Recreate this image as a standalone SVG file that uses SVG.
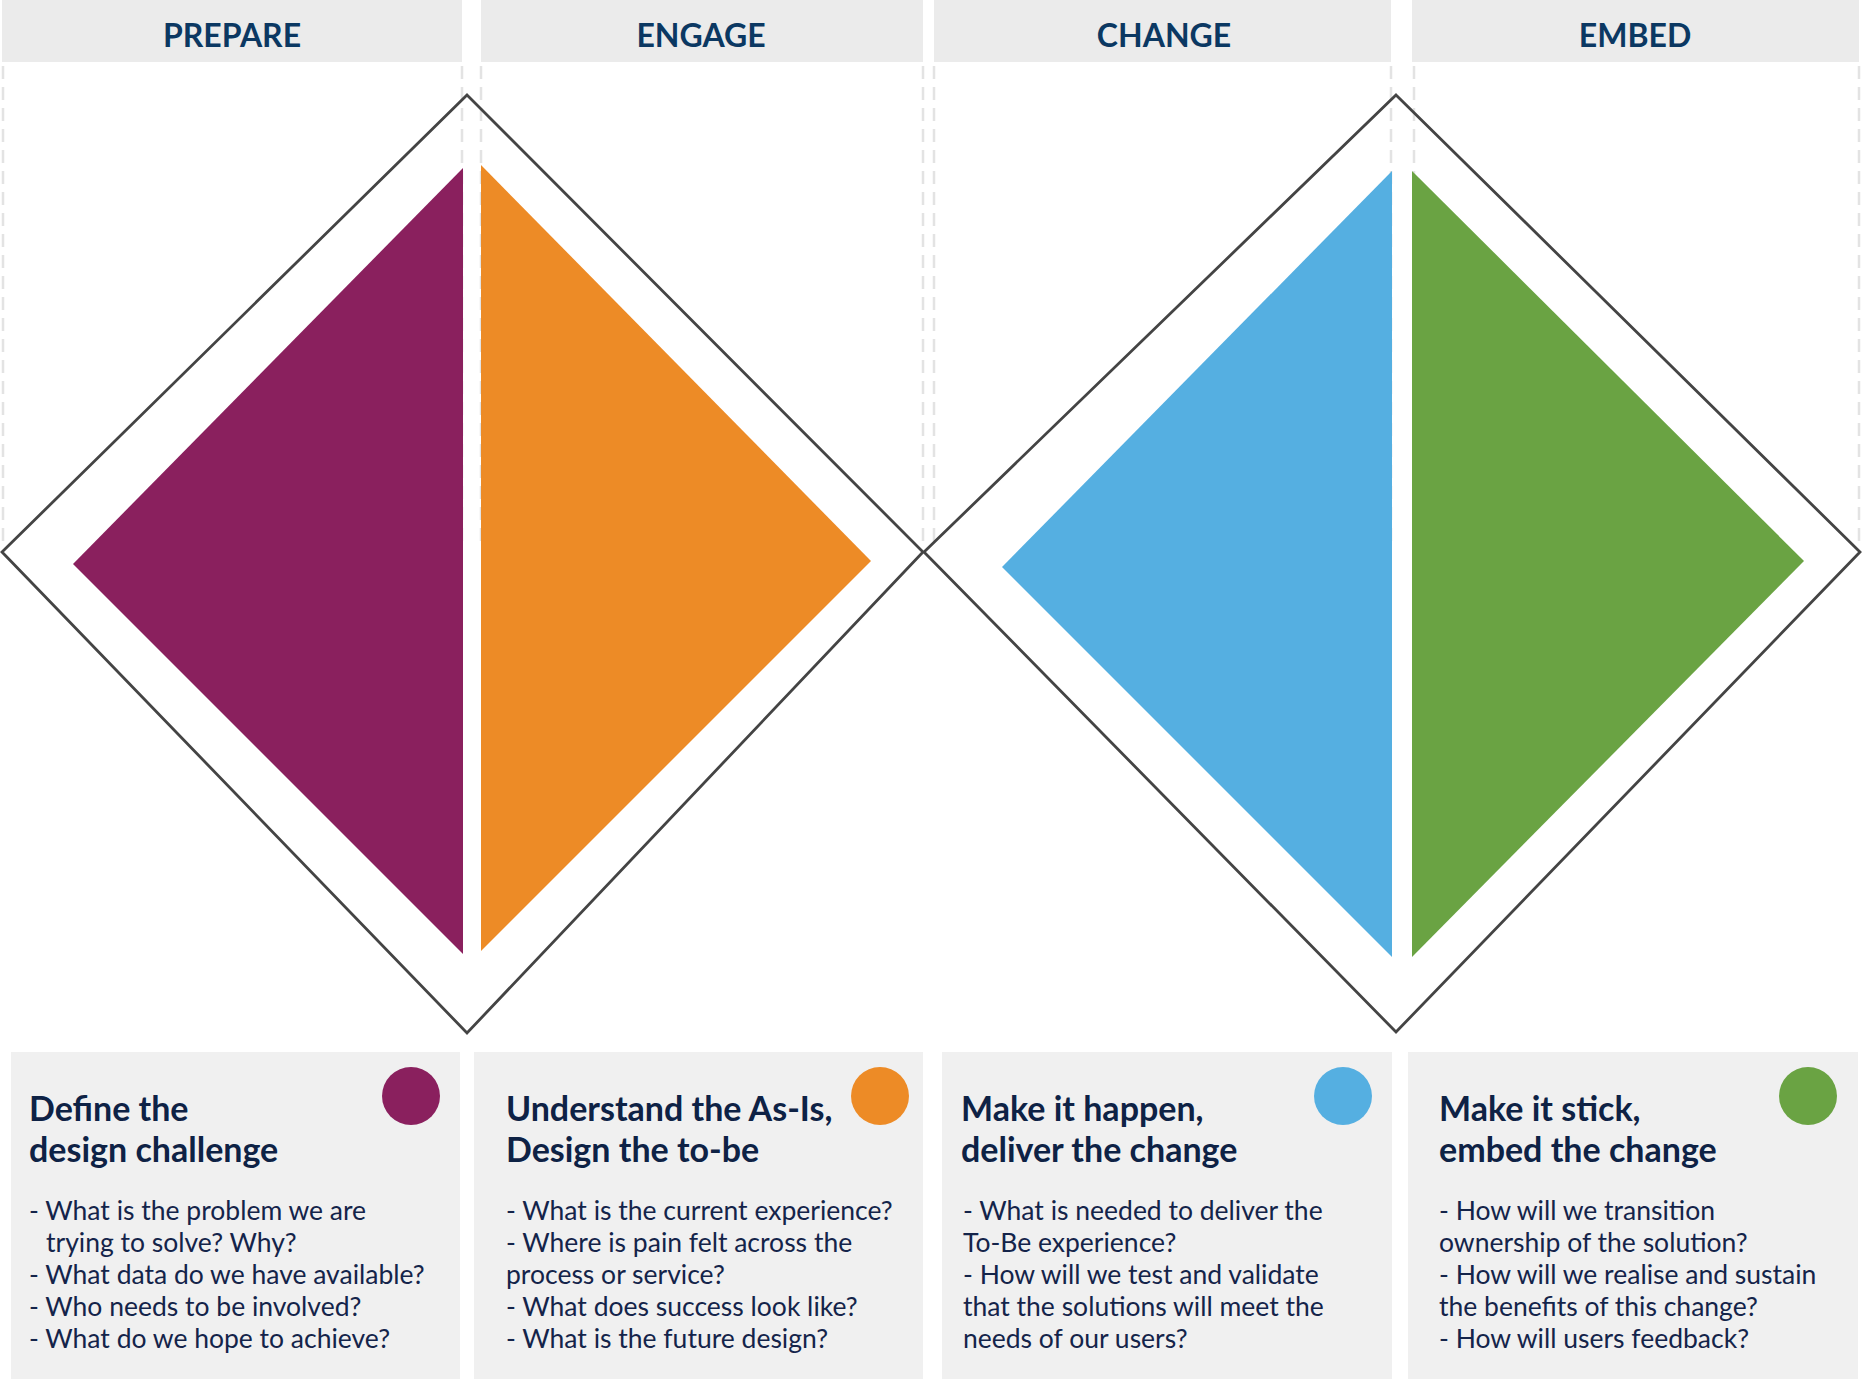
<svg xmlns="http://www.w3.org/2000/svg" width="1863" height="1379" viewBox="0 0 1863 1379">
<style>
.hdr{fill:#ebebeb}
.hdrt{font-family:Lato,"Liberation Sans",sans-serif;font-weight:700;font-size:32px;fill:#0b3862;text-anchor:middle}
.dash{stroke:#e3e3e3;stroke-width:2.5;stroke-dasharray:13 8;fill:none}
.dia{fill:none;stroke:#444;stroke-width:2.8;stroke-linejoin:miter}
.card{fill:#f0f0f0}
.ttl{font-family:Lato,"Liberation Sans",sans-serif;font-weight:700;font-size:34px;fill:#0e2245}
.body{font-family:Lato,"Liberation Sans",sans-serif;font-size:26.5px;fill:#14244a}
</style>
<rect width="1863" height="1379" fill="#fff"/>
<g id="headers">
<g id="h-prepare"><rect class="hdr" x="2" y="0" width="460" height="62"/><text class="hdrt" x="232" y="47">PREPARE</text></g>
<g id="h-engage"><rect class="hdr" x="481" y="0" width="442" height="62"/><text class="hdrt" x="701" y="47">ENGAGE</text></g>
<g id="h-change"><rect class="hdr" x="934" y="0" width="457" height="62"/><text class="hdrt" x="1164" y="47">CHANGE</text></g>
<g id="h-embed"><rect class="hdr" x="1412" y="0" width="447" height="62"/><text class="hdrt" x="1635" y="47">EMBED</text></g>
</g>
<g id="guides">
<path class="dash" d="M3 66V545M462 66V545M481 66V545M923 66V545M934 66V545M1391 66V545M1414 66V545M1859 66V545"/>
</g>
<g id="diamond-1">
<polygon class="dia" points="467,95 923,552 467,1033 2,552"/>
<polygon id="tri-prepare" fill="#8a205e" points="463,168 463,954 73,564"/>
<polygon id="tri-engage" fill="#ed8b26" points="481,165 871,561 481,951"/>
</g>
<g id="diamond-2">
<polygon class="dia" points="1396,95 1860,552 1396,1032 924,552"/>
<polygon id="tri-change" fill="#55afe1" points="1392,171 1392,957 1002,567"/>
<polygon id="tri-embed" fill="#6aa343" points="1412,171 1804,561 1412,957"/>
</g>
<g id="card-prepare">
<rect class="card" x="11" y="1052" width="449" height="327"/>
<circle cx="411" cy="1096" r="29" fill="#8a205e"/>
<text class="ttl"><tspan x="29" y="1121">Define the</tspan><tspan x="29" y="1162">design challenge</tspan></text>
<text class="body"><tspan x="29" y="1220">- What is the problem we are</tspan><tspan x="46" y="1252">trying to solve? Why?</tspan><tspan x="29" y="1284">- What data do we have available?</tspan><tspan x="29" y="1316">- Who needs to be involved?</tspan><tspan x="29" y="1348">- What do we hope to achieve?</tspan></text>
</g>
<g id="card-engage">
<rect class="card" x="474" y="1052" width="449" height="327"/>
<circle cx="880" cy="1096" r="29" fill="#ed8b26"/>
<text class="ttl"><tspan x="506" y="1121">Understand the As-Is,</tspan><tspan x="506" y="1162">Design the to-be</tspan></text>
<text class="body"><tspan x="506" y="1220">- What is the current experience?</tspan><tspan x="506" y="1252">- Where is pain felt across the</tspan><tspan x="506" y="1284">process or service?</tspan><tspan x="506" y="1316">- What does success look like?</tspan><tspan x="506" y="1348">- What is the future design?</tspan></text>
</g>
<g id="card-change">
<rect class="card" x="942" y="1052" width="450" height="327"/>
<circle cx="1343" cy="1096" r="29" fill="#55afe1"/>
<text class="ttl"><tspan x="961" y="1121">Make it happen,</tspan><tspan x="961" y="1162">deliver the change</tspan></text>
<text class="body"><tspan x="963" y="1220">- What is needed to deliver the</tspan><tspan x="963" y="1252">To-Be experience?</tspan><tspan x="963" y="1284">- How will we test and validate</tspan><tspan x="963" y="1316">that the solutions will meet the</tspan><tspan x="963" y="1348">needs of our users?</tspan></text>
</g>
<g id="card-embed">
<rect class="card" x="1408" y="1052" width="450" height="327"/>
<circle cx="1808" cy="1096" r="29" fill="#6aa343"/>
<text class="ttl"><tspan x="1439" y="1121">Make it stick,</tspan><tspan x="1439" y="1162">embed the change</tspan></text>
<text class="body"><tspan x="1439" y="1220">- How will we transition</tspan><tspan x="1439" y="1252">ownership of the solution?</tspan><tspan x="1439" y="1284">- How will we realise and sustain</tspan><tspan x="1439" y="1316">the benefits of this change?</tspan><tspan x="1439" y="1348">- How will users feedback?</tspan></text>
</g>
</svg>
